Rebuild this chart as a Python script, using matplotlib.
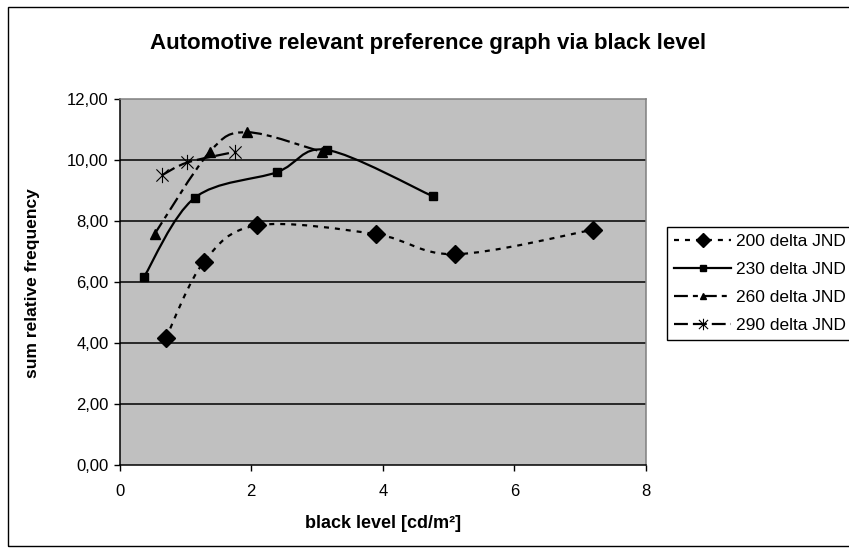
import numpy as np
import matplotlib
matplotlib.use("Agg")
import matplotlib.pyplot as plt
from matplotlib.path import Path
from matplotlib.patches import PathPatch, Rectangle
from matplotlib.lines import Line2D

plt.rcParams['font.family'] = ['Liberation Sans', 'DejaVu Sans']
plt.rcParams['lines.scale_dashes'] = False

# black level [cd/m²] / sum relative frequency per delta JND series
x_200 = [0.70, 1.28, 2.09, 3.89, 5.10, 7.19]
y_200 = [4.15, 6.66, 7.86, 7.57, 6.91, 7.71]

x_230 = [0.37, 1.14, 2.39, 3.15, 4.76]
y_230 = [6.17, 8.76, 9.60, 10.33, 8.81]

x_260 = [0.53, 1.37, 1.94, 3.07]
y_260 = [7.57, 10.27, 10.91, 10.27]

x_290 = [0.65, 1.03, 1.76]
y_290 = [9.51, 9.92, 10.27]

labels = ["200 delta JND", "230 delta JND", "260 delta JND", "290 delta JND"]

x_ticks = [0, 2, 4, 6, 8]
y_ticks = [0, 2, 4, 6, 8, 10, 12]
y_ticklabels = ["0,00", "2,00", "4,00", "6,00", "8,00", "10,00", "12,00"]

# star marker: an X with a vertical bar through it
star = Path([(-1, -1), (1, 1), (-1, 1), (1, -1), (0, -1.25), (0, 1.25)],
            [Path.MOVETO, Path.LINETO, Path.MOVETO, Path.LINETO, Path.MOVETO, Path.LINETO])


def smooth_path(xs, ys):
    # cubic bezier through every point (spreadsheet-style smoothed line)
    pts = np.column_stack([xs, ys])
    n = len(pts)
    verts = [pts[0]]
    codes = [Path.MOVETO]
    for i in range(n - 1):
        p0 = pts[i - 1] if i > 0 else pts[i]
        p1 = pts[i]
        p2 = pts[i + 1]
        p3 = pts[i + 2] if i + 2 < n else pts[i + 1]
        c1 = p1 + (p2 - p0) / 6.0
        c2 = p2 - (p3 - p1) / 6.0
        verts += [c1, c2, p2]
        codes += [Path.CURVE4] * 3
    return Path(verts, codes)


series = [
    (x_200, y_200, dict(dashes=(3.6, 4.3)), dict(marker='D', ms=9)),
    (x_230, y_230, dict(linestyle='-'), dict(marker='s', ms=5.5)),
    (x_260, y_260, dict(dashes=(10, 3.6, 3.6, 3.6)), dict(marker='^', ms=6.5)),
    (x_290, y_290, dict(dashes=(10, 3.6)), dict(marker=star, ms=11, mew=0.8)),
]

fig = plt.figure(figsize=(8.49, 5.51), dpi=100)
ax = fig.add_axes([119.7 / 849, 86 / 551, 526.3 / 849, 366 / 551])
ax.set_facecolor('#c0c0c0')
ax.set_xlim(0, 8)
ax.set_ylim(0, 12)

for yv in y_ticks[1:-1]:
    ax.axhline(yv, color='black', lw=1.1, zorder=1)

handles = []
for xs, ys, ls, mk in series:
    ls_kw = dict(ls)
    patch = PathPatch(smooth_path(xs, ys), fill=False, edgecolor='black', lw=1.6,
                      zorder=3, **({'linestyle': (0, ls_kw['dashes'])} if 'dashes' in ls_kw else {}))
    ax.add_patch(patch)
    ax.plot(xs, ys, linestyle='none', color='black', mfc='black', mec='black', zorder=4, **mk)
    handles.append(Line2D([], [], color='black', lw=1.6, mfc='black', mec='black',
                          **ls_kw, **mk))

ax.set_xticks(x_ticks)
ax.set_yticks(y_ticks)
ax.set_yticklabels(y_ticklabels)
ax.tick_params(direction='out', length=4, width=1, labelsize=12, pad=4)
ax.tick_params(axis='x', pad=10)
for side in ['left', 'bottom']:
    ax.spines[side].set_color('black')
    ax.spines[side].set_linewidth(1.1)
for side in ['top', 'right']:
    ax.spines[side].set_color('#808080')
    ax.spines[side].set_linewidth(1.1)

ax.set_xlabel("black level [cd/m²]", fontsize=13, fontweight='bold', va='center')
ax.xaxis.set_label_coords(0.5, -(523 - 465) / 366)
ax.set_ylabel("sum relative frequency", fontsize=12.5, fontweight='bold', va='center')
ax.yaxis.set_label_coords((33 - 119.7) / 526.3, 0.496)
fig.text(428 / 849, 1 - 44 / 551, "Automotive relevant preference graph via black level",
         ha='center', va='center', fontsize=16, fontweight='bold')

leg = fig.legend(handles, labels, loc='upper left', bbox_to_anchor=(667 / 849, 1 - 227 / 551),
                 frameon=True, fancybox=False, edgecolor='black', framealpha=1,
                 fontsize=12.5, handlelength=3.3, handletextpad=0.3, borderaxespad=0,
                 labelspacing=0.74, borderpad=0.4, markerscale=0.75)
leg.get_frame().set_linewidth(1.0)

# outer chart border
fig.patches.append(Rectangle((8 / 849, 5 / 551), 1.0, 1 - 12 / 551, transform=fig.transFigure,
                             fill=False, edgecolor='black', lw=1.0, clip_on=False))

fig.savefig("out.png", dpi=100)
